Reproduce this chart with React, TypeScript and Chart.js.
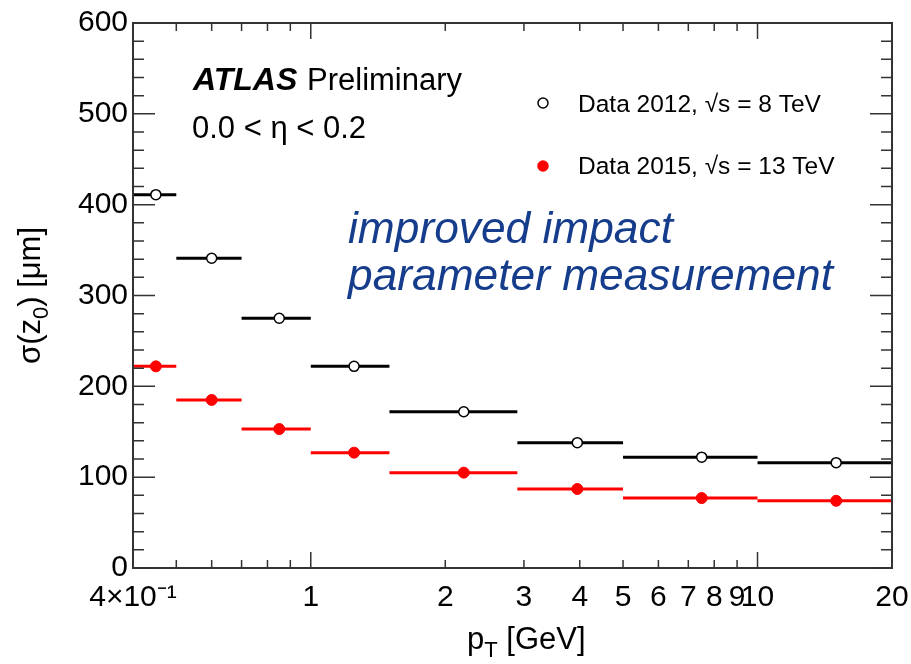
import React, { useEffect, useRef } from 'react';
import { Chart, registerables } from 'chart.js';

Chart.register(...registerables);

// ---- data ----
const binLow = [0.4, 0.5, 0.7, 1.0, 1.5, 2.9, 5, 10];
const binHigh = [0.5, 0.7, 1.0, 1.5, 2.9, 5, 10, 20];
const binCenter = [0.45, 0.6, 0.85, 1.25, 2.2, 3.95, 7.5, 15];
const sigma2012 = [411, 341, 275, 222, 172, 138, 122, 116];
const sigma2015 = [222, 185, 153, 127, 105, 87, 77, 74];

const xTickValues = [0.4, 1, 2, 3, 4, 5, 6, 7, 8, 9, 10, 20];
const xTickLabels = ['4×10⁻¹', '1', '2', '3', '4', '5', '6', '7', '8', '9', '10', '20'];
const xMajorTicks = [1, 10];
const xMinorTicks = [0.5, 0.6, 0.7, 0.8, 0.9, 2, 3, 4, 5, 6, 7, 8, 9];
const yMajorTicks = [0, 100, 200, 300, 400, 500, 600];
const yMinorTicks = [20, 40, 60, 80, 120, 140, 160, 180, 220, 240, 260, 280, 320, 340, 360, 380, 420, 440, 460, 480, 520, 540, 560, 580];

const legendLabels = ['Data 2012, √s = 8 TeV', 'Data 2015, √s = 13 TeV'];
const FONT = '"Liberation Sans", Arial, Helvetica, sans-serif';

const decorPlugin = {
  id: 'rootDecor',
  beforeDatasetsDraw(chart: any) {
    const ctx = chart.ctx;
    const xs = chart.scales.x;
    const ys = chart.scales.y;
    chart.data.datasets.forEach((ds: any) => {
      ctx.save();
      ctx.strokeStyle = ds.borderColor;
      ctx.lineWidth = 3;
      ds.data.forEach((p: any) => {
        const y = ys.getPixelForValue(p.y);
        ctx.beginPath();
        ctx.moveTo(xs.getPixelForValue(p.xMin), y);
        ctx.lineTo(xs.getPixelForValue(p.xMax), y);
        ctx.stroke();
      });
      ctx.restore();
    });
  },
  afterDraw(chart: any) {
    const ctx = chart.ctx;
    const xs = chart.scales.x;
    const ys = chart.scales.y;
    const a = chart.chartArea;
    ctx.save();
    // frame
    ctx.strokeStyle = '#333333';
    ctx.lineWidth = 2;
    ctx.strokeRect(a.left, a.top, a.right - a.left, a.bottom - a.top);
    ctx.lineWidth = 1.5;
    ctx.beginPath();
    yMajorTicks.forEach((v) => {
      const y = ys.getPixelForValue(v);
      ctx.moveTo(a.left, y); ctx.lineTo(a.left + 22, y);
      ctx.moveTo(a.right, y); ctx.lineTo(a.right - 22, y);
    });
    yMinorTicks.forEach((v) => {
      const y = ys.getPixelForValue(v);
      ctx.moveTo(a.left, y); ctx.lineTo(a.left + 11, y);
      ctx.moveTo(a.right, y); ctx.lineTo(a.right - 11, y);
    });
    xMajorTicks.forEach((v) => {
      const x = xs.getPixelForValue(v);
      ctx.moveTo(x, a.bottom); ctx.lineTo(x, a.bottom - 16);
      ctx.moveTo(x, a.top); ctx.lineTo(x, a.top + 16);
    });
    xMinorTicks.forEach((v) => {
      const x = xs.getPixelForValue(v);
      ctx.moveTo(x, a.bottom); ctx.lineTo(x, a.bottom - 8);
      ctx.moveTo(x, a.top); ctx.lineTo(x, a.top + 8);
    });
    ctx.stroke();

    // texts
    ctx.fillStyle = '#000000';
    ctx.textBaseline = 'alphabetic';
    ctx.textAlign = 'left';
    ctx.font = `italic bold 32px ${FONT}`;
    ctx.fillText('ATLAS', 193, 90);
    ctx.font = `31px ${FONT}`;
    ctx.fillText('Preliminary', 307, 90);
    ctx.fillText('0.0 < η < 0.2', 192, 138);

    // legend
    const legY = [103, 166];
    const legBase = [112, 174];
    chart.data.datasets.forEach((ds: any, i: number) => {
      ctx.beginPath();
      ctx.arc(543, legY[i], 5, 0, Math.PI * 2);
      ctx.fillStyle = ds.pointBackgroundColor;
      ctx.fill();
      ctx.lineWidth = 1.5;
      ctx.strokeStyle = ds.pointBorderColor;
      ctx.stroke();
      ctx.fillStyle = '#000000';
      ctx.font = `24.5px ${FONT}`;
      ctx.fillText(legendLabels[i], 578, legBase[i]);
    });

    // annotation
    ctx.fillStyle = '#163c8c';
    ctx.font = `italic 44.3px ${FONT}`;
    ctx.fillText('improved impact', 348, 243);
    ctx.fillText('parameter measurement', 348, 290);

    // x title
    ctx.fillStyle = '#000000';
    ctx.font = `31px ${FONT}`;
    let x = 467;
    ctx.fillText('p', x, 649);
    x += ctx.measureText('p').width;
    ctx.font = `22px ${FONT}`;
    ctx.fillText('T', x, 657);
    x += ctx.measureText('T').width;
    ctx.font = `31px ${FONT}`;
    ctx.fillText(' [GeV]', x, 649);

    // y title (rotated)
    ctx.translate(40, 364);
    ctx.rotate(-Math.PI / 2);
    let t = 0;
    ctx.font = `31px ${FONT}`;
    ctx.fillText('σ(z', t, 0);
    t += ctx.measureText('σ(z').width;
    ctx.font = `22px ${FONT}`;
    ctx.fillText('0', t, 8);
    t += ctx.measureText('0').width;
    ctx.font = `31px ${FONT}`;
    ctx.fillText(') [μm]', t, 0);
    ctx.restore();
  },
};

export default function App() {
  const ref = useRef<HTMLCanvasElement>(null);
  useEffect(() => {
    if (!ref.current) return;
    const mk = (vals: number[]) =>
      vals.map((v, i) => ({ x: binCenter[i], y: v, xMin: binLow[i], xMax: binHigh[i] }));
    const chart = new Chart(ref.current, {
      type: 'scatter',
      data: {
        datasets: [
          {
            label: legendLabels[0],
            data: mk(sigma2012),
            borderColor: '#000000',
            backgroundColor: '#ffffff',
            pointBackgroundColor: '#ffffff',
            pointBorderColor: '#000000',
            pointBorderWidth: 1.5,
            pointRadius: 5,
            showLine: false,
          },
          {
            label: legendLabels[1],
            data: mk(sigma2015),
            borderColor: '#ff0000',
            backgroundColor: '#ff0000',
            pointBackgroundColor: '#ff0000',
            pointBorderColor: '#ff0000',
            pointBorderWidth: 1,
            pointRadius: 5.5,
            showLine: false,
          },
        ],
      } as any,
      options: {
        responsive: false,
        animation: false,
        layout: { padding: { top: 23, right: 19, left: 0, bottom: 0 } },
        plugins: { legend: { display: false }, tooltip: { enabled: false } },
        scales: {
          x: {
            type: 'logarithmic',
            min: 0.4,
            max: 20,
            grid: { display: false, drawTicks: true, tickLength: 12 },
            border: { display: false },
            afterBuildTicks: (s: any) => {
              s.ticks = xTickValues.map((v) => ({ value: v }));
            },
            afterFit: (s: any) => {
              s.height = 96;
            },
            ticks: {
              autoSkip: false,
              maxRotation: 0,
              minRotation: 0,
              padding: 0,
              color: '#000000',
              font: { family: FONT, size: 30 },
              callback: (_v: any, i: number) => xTickLabels[i],
            },
          },
          y: {
            min: 0,
            max: 600,
            grid: { display: false, drawTicks: false },
            border: { display: false },
            afterFit: (s: any) => {
              s.width = 133;
            },
            ticks: {
              stepSize: 100,
              padding: 5,
              color: '#000000',
              font: { family: FONT, size: 30 },
            },
          },
        },
      } as any,
      plugins: [decorPlugin],
    });
    return () => chart.destroy();
  }, []);
  return (
    <div style={{ position: 'absolute', left: 0, top: 0, width: 911, height: 664, background: '#ffffff' }}>
      <canvas ref={ref} width={911} height={664} />
    </div>
  );
}
